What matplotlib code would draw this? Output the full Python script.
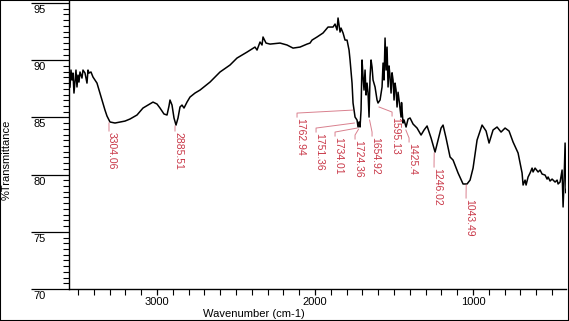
import matplotlib

matplotlib.use("Agg")
import matplotlib.pyplot as plt
from matplotlib.patches import Rectangle

plt.rcParams["font.family"] = ["Liberation Sans", "DejaVu Sans"]

# FTIR trace (wavenumber in cm-1, %T)
wavenumber = [
    3550.7, 3544.3, 3538.0, 3531.7, 3525.4, 3512.7, 3506.4, 3500.0, 3493.7, 3487.4,
    3474.7, 3468.4, 3455.7, 3443.1, 3436.7, 3430.4, 3417.8, 3405.1, 3379.8, 3360.8,
    3348.1, 3329.2, 3316.5, 3297.5, 3265.9, 3234.2, 3202.6, 3170.9, 3126.6, 3088.7,
    3057.0, 3025.4, 3000.0, 2981.1, 2955.9, 2936.7, 2924.1, 2917.8, 2905.1, 2892.5,
    2879.8, 2867.1, 2854.5, 2841.8, 2829.2, 2810.2, 2791.2, 2759.6, 2727.9, 2664.6,
    2601.3, 2538.1, 2493.8, 2430.5, 2380.0, 2367.1, 2348.2, 2335.5, 2329.2, 2310.2,
    2284.9, 2221.6, 2177.3, 2139.3, 2095.0, 2050.7, 2031.7, 2019.1, 1987.4, 1949.4,
    1917.8, 1886.1, 1873.5, 1860.8, 1854.5, 1841.8, 1835.5, 1822.8, 1810.2, 1797.5,
    1791.2, 1784.9, 1778.5, 1765.9, 1759.6, 1746.9, 1734.3, 1727.9, 1721.6, 1715.3,
    1708.9, 1702.6, 1696.3, 1690.0, 1683.6, 1677.3, 1671.0, 1664.6, 1658.3, 1652.0,
    1645.6, 1639.3, 1633.0, 1620.3, 1607.7, 1601.4, 1588.7, 1576.0, 1569.7, 1563.4,
    1557.0, 1550.7, 1544.4, 1538.0, 1531.7, 1525.4, 1519.0, 1512.7, 1506.4, 1500.1,
    1493.7, 1487.4, 1481.1, 1474.7, 1468.4, 1455.8, 1452.6, 1449.4, 1443.1, 1436.8,
    1424.1, 1411.4, 1398.8, 1379.8, 1354.5, 1329.2, 1310.2, 1291.2, 1265.9, 1240.6,
    1221.6, 1202.6, 1190.0, 1171.0, 1145.7, 1126.6, 1095.0, 1063.4, 1038.1, 1019.1,
    1000.1, 974.8, 943.1, 917.8, 898.9, 873.6, 848.3, 823.0, 797.6, 772.4,
    747.0, 715.3, 702.6, 690.0, 683.6, 671.0, 664.7, 652.0, 639.4, 626.7,
    620.4, 607.7, 588.7, 576.1, 563.4, 544.4, 531.8, 525.4, 512.8, 500.1,
    481.1, 468.4, 462.1, 449.5, 436.8, 430.5, 424.1, 417.8, 411.5, 405.1,
]
transmittance = [
    87.66, 89.14, 88.27, 88.88, 87.13, 89.14, 87.66, 88.70, 88.09, 88.97,
    88.44, 89.14, 88.88, 88.00, 89.14, 88.88, 88.97, 88.53, 88.00, 87.13,
    86.52, 85.64, 85.12, 84.60, 84.51, 84.60, 84.68, 84.86, 85.21, 85.82,
    86.08, 86.34, 86.17, 85.82, 85.30, 85.21, 86.00, 86.52, 86.08, 84.95,
    84.33, 84.95, 85.91, 86.08, 85.82, 86.34, 86.78, 87.13, 87.39, 88.09,
    88.97, 89.58, 90.19, 90.71, 91.15, 90.89, 91.59, 91.33, 92.03, 91.50,
    91.41, 91.50, 91.33, 91.06, 91.15, 91.41, 91.50, 91.76, 92.03, 92.38,
    92.90, 92.90, 93.16, 92.64, 93.69, 92.46, 92.81, 92.38, 91.76, 91.76,
    91.33, 90.89, 90.02, 88.00, 86.26, 85.03, 84.77, 84.16, 84.60, 84.16,
    85.64, 90.02, 88.53, 87.39, 89.14, 86.96, 88.00, 87.13, 85.03, 88.53,
    90.02, 89.40, 88.27, 87.66, 86.52, 86.26, 86.52, 87.66, 89.75, 88.27,
    91.94, 89.14, 91.15, 87.66, 89.50, 88.53, 87.13, 88.90, 88.27, 86.52,
    88.00, 87.39, 85.91, 87.20, 86.52, 85.03, 86.30, 85.64, 84.51, 84.77,
    84.16, 84.86, 84.95, 84.42, 84.07, 83.46, 83.90, 84.25, 83.20, 81.97,
    83.02, 84.07, 84.33, 83.20, 81.54, 81.27, 80.14, 79.18, 79.18, 79.52,
    80.57, 83.02, 84.33, 83.81, 82.76, 83.90, 84.16, 83.72, 84.07, 83.81,
    82.85, 81.89, 81.01, 80.14, 79.09, 79.52, 79.09, 79.79, 80.14, 80.57,
    80.23, 80.57, 80.23, 80.40, 80.05, 79.96, 79.61, 79.79, 79.44, 79.61,
    79.35, 79.52, 79.18, 79.35, 80.40, 77.17, 79.52, 82.76, 78.39, 79.09,
]

# picked peaks
peak_wn = [3304.06, 2885.51, 1762.94, 1751.36, 1734.01, 1724.36, 1654.92,
           1595.13, 1425.4, 1246.02, 1043.49]
peak_t = [84.51, 84.25, 85.64, 84.51, 84.07, 83.98, 84.77, 85.91, 83.90, 81.89, 79.09]

# where the leader bends before dropping to the label (layout only)
elbow_wn = [3303.8, 2886.1, 2114.0, 1993.7, 1873.5, 1747.0, 1639.3, 1512.7,
            1405.1, 1247.0, 1044.4]
elbow_t = [84.16, 84.16, 85.38, 84.07, 83.72, 83.46, 83.72, 85.47, 83.20, 81.01, 78.30]

y_major = [70, 75, 80, 85, 90, 95]
x_major = [3000, 2000, 1000]

label_red = "#c93848"
leader_red = "#d9808e"

fig = plt.figure(figsize=(5.69, 3.21), dpi=100, facecolor="white")
ax = fig.add_axes([0.1204, 0.0997, 0.8749, 0.898])
ax.plot(wavenumber, transmittance, color="black", linewidth=1.1)

ax.set_xlim(3560, 410)
ax.set_ylim(70, 95.2)
ax.spines["top"].set_visible(False)
ax.spines["right"].set_visible(False)
for side in ("left", "bottom"):
    ax.spines[side].set_linewidth(1.0)

ax.set_yticks(y_major)
ax.set_yticks([v / 2 for v in range(140, 191)], minor=True)
ax.tick_params(axis="y", which="major", length=27.5, width=0.9, labelleft=False)
ax.tick_params(axis="y", which="minor", length=4.3, width=0.8)
for v in y_major:
    ax.annotate(str(v), xy=(-0.0713, v), xycoords=ax.get_yaxis_transform(),
                xytext=(0, -1.5), textcoords="offset points",
                ha="left", va="top", fontsize=8)

ax.set_xticks(x_major)
ax.set_xticklabels([str(v) for v in x_major])
ax.set_xticks(range(500, 3600, 100), minor=True)
ax.tick_params(axis="x", which="major", length=4, width=0.9, labelsize=8, pad=2)
ax.tick_params(axis="x", which="minor", length=4, width=0.8)

# peak labels with bent leaders
for wn, t, ex, ey in zip(peak_wn, peak_t, elbow_wn, elbow_t):
    ax.plot([wn, ex, ex], [t, ey, ey - 0.35], color=leader_red, linewidth=0.7)
    ax.text(ex - 19, ey - 0.4, f"{wn:g}", rotation=270, ha="center", va="top",
            color=label_red, fontsize=7.5)

fig.text(7 / 569, 0.5016, "%Transmittance", rotation=90, ha="center", va="center",
         fontsize=8)
fig.text(203 / 569, 0.0218, "Wavenumber (cm-1)", ha="left", va="center", fontsize=8)

fig.add_artist(Rectangle((0, 0), 1, 1, transform=fig.transFigure, fill=False,
                         edgecolor="black", linewidth=1.5))

fig.savefig("out.png", dpi=100, facecolor=fig.get_facecolor())
plt.close(fig)
